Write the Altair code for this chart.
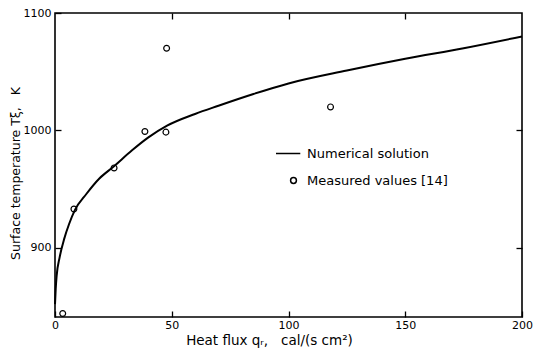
import altair as alt
import pandas as pd

# Numerical solution curve
curve_q = [0, 0.3, 0.7, 2, 4, 6, 8.5, 13.5, 19, 25, 33, 40, 48, 60, 70, 85, 100, 125, 150, 175, 200]
curve_T = [852, 865, 876, 892, 908, 920, 932, 946, 959, 969, 983, 994, 1004, 1014, 1021, 1031, 1040, 1051, 1061, 1070, 1080]

# Measured values [14]
meas_q = [3.3, 8.1, 25.3, 38.5, 47.8, 47.5, 118]
meas_T = [844, 933, 968, 999, 1070, 998.5, 1020]

series_names = ["Numerical solution", "Measured values [14]"]
x_ticks = [0, 50, 100, 150, 200]
y_ticks = [900, 1000, 1100]

curve_df = pd.DataFrame({"q": curve_q, "T": curve_T, "series": series_names[0]})
meas_df = pd.DataFrame({"q": meas_q, "T": meas_T, "series": series_names[1]})

FONT = "DejaVu Sans"
NB = "\u00a0"
x_dom = [0, 200]
y_dom = [841, 1100]

line = alt.Chart(curve_df).mark_line(color="black", strokeWidth=2, interpolate="monotone").encode(
    x=alt.X("q:Q", scale=alt.Scale(domain=x_dom, nice=False, zero=False),
            axis=alt.Axis(orient="bottom", values=x_ticks, format="d",
                          title=f"Heat flux qᵣ,{NB*3}cal/(s cm²)",
                          offset=-6, tickSize=6, labelPadding=2, domain=False, grid=False,
                          titleX=214, titlePadding=3, titleFontSize=13.5, labelFlush=False)),
    y=alt.Y("T:Q", scale=alt.Scale(domain=y_dom, nice=False, zero=False),
            axis=alt.Axis(orient="left", values=y_ticks, format="d",
                          title=f"Surface temperature Tξ,{NB*3}K",
                          offset=-6, tickSize=6, labelPadding=4, domain=False, grid=False,
                          titleY=160, titlePadding=1)),
)

pts = alt.Chart(meas_df).mark_point(filled=False, color="black", strokeWidth=1.2, size=34, opacity=1).encode(
    x=alt.X("q:Q", scale=alt.Scale(domain=x_dom, nice=False, zero=False),
            axis=alt.Axis(orient="top", values=[50, 100, 150], title=None, labels=False,
                          offset=-6, tickSize=6, domain=False, grid=False)),
    y=alt.Y("T:Q", scale=alt.Scale(domain=y_dom, nice=False, zero=False),
            axis=alt.Axis(orient="right", values=[900, 1000], title=None, labels=False,
                          offset=-6, tickSize=6, domain=False, grid=False)),
    shape=alt.Shape("series:N",
                    scale=alt.Scale(domain=series_names, range=["M-6,0L2.33,0", "circle"]),
                    legend=alt.Legend(title=None, orient="none", legendX=232, legendY=134,
                                      symbolSize=34, symbolStrokeWidth=1.5,
                                      symbolStrokeColor="black", symbolFillColor="transparent",
                                      labelFont=FONT, labelFontSize=13, labelColor="black",
                                      labelOffset=7, rowPadding=13, padding=0)),
)

chart = (
    alt.layer(line, pts)
    .resolve_scale(x="independent", y="independent")
    .properties(width=467, height=304, autosize=alt.AutoSizeParams(type="none"),
                padding={"left": 55, "top": 13, "right": 11, "bottom": 35},
                background="white")
    .configure_view(stroke="black", strokeWidth=1.6)
    .configure_axis(labelFont=FONT, titleFont=FONT, labelFontSize=11, titleFontSize=12.5,
                    titleFontWeight="normal", labelColor="black", titleColor="black",
                    tickColor="black", tickWidth=1.3)
)

chart.save("out.html", embed_options={"renderer": "svg", "actions": False})
